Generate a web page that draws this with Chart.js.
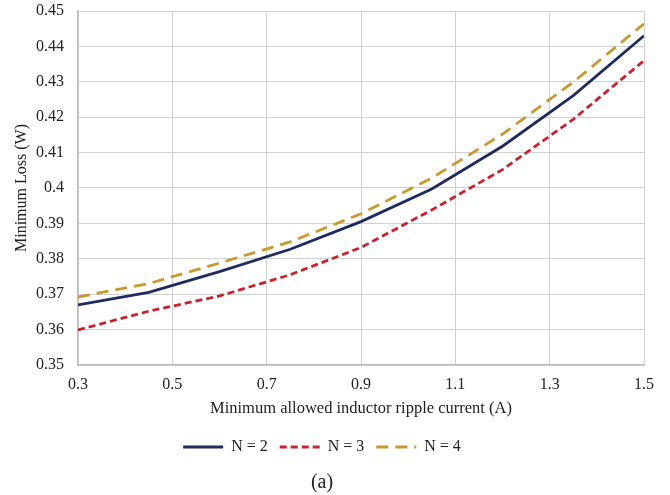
<!DOCTYPE html>
<html>
<head>
<meta charset="utf-8">
<script src="https://cdn.jsdelivr.net/npm/chart.js@4/dist/chart.umd.min.js"></script>
<style>
html,body{margin:0;padding:0;background:#fff;}
#wrap{width:670px;height:495px;position:relative;}
</style>
</head>
<body>
<div id="wrap"><canvas id="c" width="670" height="495"></canvas></div>
<script>
const ripple = [0.3, 0.45, 0.6, 0.75, 0.9, 1.05, 1.2, 1.35, 1.5];
const lossN2 = [0.3670, 0.3705, 0.3764, 0.3827, 0.3905, 0.3997, 0.4118, 0.4261, 0.4430];
const lossN3 = [0.3599, 0.3652, 0.3695, 0.3755, 0.3832, 0.3938, 0.4052, 0.4194, 0.4360];
const lossN4 = [0.3692, 0.3730, 0.3788, 0.3848, 0.3927, 0.4028, 0.4152, 0.4299, 0.4464];
const seriesNames = ['N = 2', 'N = 3', 'N = 4'];
const yTicks = [0.35, 0.36, 0.37, 0.38, 0.39, 0.4, 0.41, 0.42, 0.43, 0.44, 0.45];
const xTicks = [0.3, 0.5, 0.7, 0.9, 1.1, 1.3, 1.5];

const FONT = "'Liberation Serif', 'Times New Roman', serif";
const pts = arr => ripple.map((x, i) => ({x: x, y: arr[i]}));

new Chart(document.getElementById('c'), {
  type: 'line',
  data: {
    datasets: [
      {label: seriesNames[0], data: pts(lossN2), borderColor: '#1f2b5e', borderWidth: 2.8, borderDash: [], pointRadius: 0, tension: 0, fill: false},
      {label: seriesNames[1], data: pts(lossN3), borderColor: '#c8222e', borderWidth: 2.8, borderDash: [7, 4], pointRadius: 0, tension: 0, fill: false},
      {label: seriesNames[2], data: pts(lossN4), borderColor: '#c9982e', borderWidth: 2.8, borderDash: [12, 7], pointRadius: 0, tension: 0, fill: false}
    ]
  },
  options: {
    responsive: false,
    animation: false,
    devicePixelRatio: 1,
    layout: {padding: {left: 0, right: 26, top: 0, bottom: 0}},
    plugins: {
      legend: {
        position: 'bottom',
        labels: {
          usePointStyle: true,
          pointStyle: 'line',
          pointStyleWidth: 40,
          boxHeight: 6,
          padding: 12,
          color: '#222',
          font: {family: FONT, size: 16},
          generateLabels: chart => chart.data.datasets.map((ds, i) => ({
            text: ds.label,
            fillStyle: ds.borderColor,
            strokeStyle: ds.borderColor,
            lineWidth: 3,
            lineDash: ds.borderDash,
            lineCap: 'butt',
            pointStyle: 'line',
            fontColor: '#222',
            hidden: false,
            datasetIndex: i
          }))
        }
      },
      title: {
        display: true,
        position: 'bottom',
        text: '(a)',
        color: '#222',
        font: {family: FONT, size: 20, weight: 'normal'},
        padding: {top: 6, bottom: 0}
      },
      tooltip: {enabled: false}
    },
    scales: {
      x: {
        type: 'linear',
        min: 0.3, max: 1.5,
        afterBuildTicks: s => { s.ticks = xTicks.map(v => ({value: v})); },
        ticks: {
          callback: v => parseFloat(v.toFixed(1)).toString(),
          color: '#222', font: {family: FONT, size: 16}, padding: 10, maxRotation: 0
        },
        grid: {color: '#d0d0d0', lineWidth: 1, drawTicks: false},
        border: {color: '#bdbdbd', width: 1.5},
        title: {display: true, text: 'Minimum allowed inductor ripple current (A)', color: '#222', font: {family: FONT, size: 16.5}, padding: {top: -5, bottom: 8}}
      },
      y: {
        type: 'linear',
        min: 0.35, max: 0.45,
        afterBuildTicks: s => { s.ticks = yTicks.map(v => ({value: v})); },
        afterFit: s => { s.width = 78; s.paddingTop = 11; s.paddingBottom = 11; },
        ticks: {
          callback: v => parseFloat(v.toFixed(2)).toString(),
          color: '#222', font: {family: FONT, size: 16}, padding: 14
        },
        grid: {color: '#d0d0d0', lineWidth: 1, drawTicks: false},
        border: {color: '#bdbdbd', width: 1.5},
        title: {display: true, text: 'Minimum Loss (W)', color: '#222', font: {family: FONT, size: 16}, padding: {top: 12, bottom: 0}}
      }
    }
  }
});
</script>
</body>
</html>
